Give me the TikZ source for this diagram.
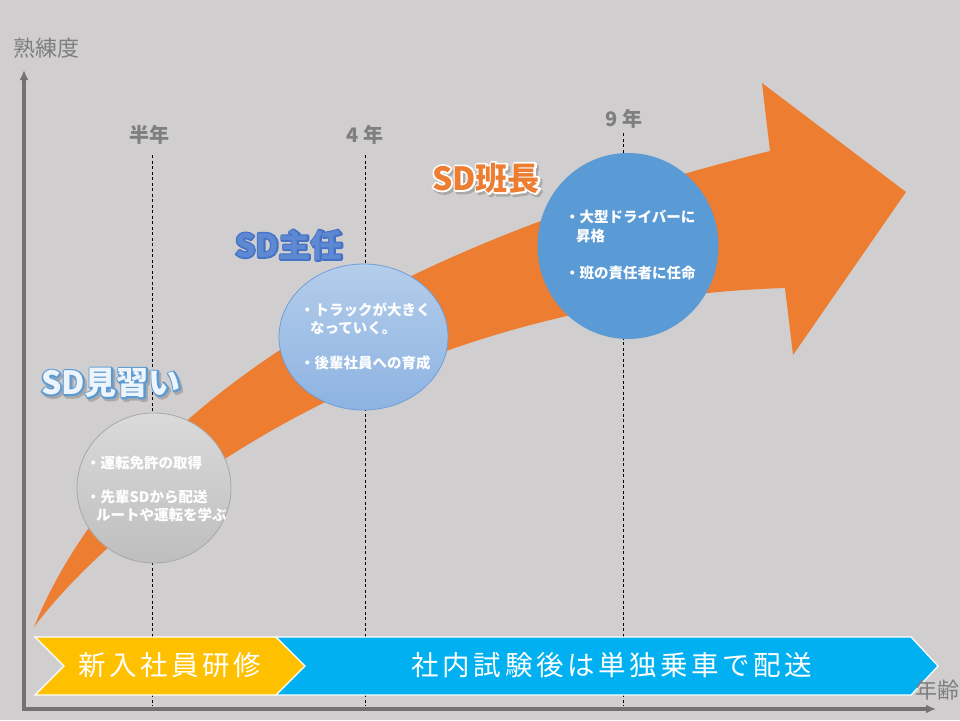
\documentclass[tikz,border=0pt]{standalone}
\usepackage{fontspec}
\setmainfont{Noto Sans CJK JP}
\newfontfamily\jpwide[LetterSpace=13]{Noto Sans CJK JP}
\usetikzlibrary{arrows.meta}
\definecolor{bg}{HTML}{D0CECE}
\definecolor{axisgray}{HTML}{767171}
\definecolor{labgray}{HTML}{7F7F7F}
\definecolor{orng}{HTML}{ED7D31}
\definecolor{midblue}{HTML}{5B9BD5}
\definecolor{dblue}{HTML}{4472C4}
\definecolor{ltblueA}{HTML}{B4CDEA}
\definecolor{ltblueB}{HTML}{8DB3E2}
\definecolor{ltblueE}{HTML}{6F9FD8}
\definecolor{grayA}{HTML}{DADADA}
\definecolor{grayB}{HTML}{BEBEBE}
\definecolor{grayE}{HTML}{A8A8A8}
\definecolor{ylw}{HTML}{FFC000}
\definecolor{cyanb}{HTML}{00B0F0}
\definecolor{pblue}{HTML}{5F88D2}
\definecolor{paleblue}{HTML}{EEF4FB}
\definecolor{shadowgray}{HTML}{ABA9A9}
% stroked text: #1 = stroke colour as "r g b", #2 = stroke width, #3 = text
\newcommand{\strokedtext}[3]{\special{pdf:literal direct #1 RG #2 w 1 j 2 Tr}#3\special{pdf:literal direct 0 Tr}}
% layered title: #1 shadow? (1/0), #2 outline colour name, #3 outline rgb, #4 width, #5 fill colour, #6 text
\newcommand{\layeredtitle}[6]{%
  \ifnum#1=1 \rlap{\kern2pt\raisebox{-2.5pt}[0pt][0pt]{\textcolor{shadowgray}{\strokedtext{0.67 0.66 0.66}{#4}{#6}}}}\fi
  \rlap{\textcolor{#2}{\strokedtext{#3}{#4}{#6}}}%
  \textcolor{#5}{#6}}
\tikzset{
  circtext/.style={anchor=west, inner sep=0pt, text=white, font=\fontsize{14.5}{17}\selectfont\bfseries},
  yearlab/.style={inner sep=0pt, text=labgray, font=\fontsize{20}{22}\selectfont\bfseries},
  axislab/.style={inner sep=0pt, text=labgray, font=\fontsize{22}{24}\selectfont},
  bartext/.style={inner sep=0pt, text=white, font=\fontsize{27.5}{30}\selectfont\jpwide},
  title/.style={inner sep=0pt, font=\fontsize{32}{34}\selectfont\bfseries},
  vline/.style={black, line width=0.7pt, dash pattern=on 3pt off 2.5pt},
  axisline/.style={axisgray, line width=3.2pt, -{Latex[length=10pt,width=9pt]}},
  barborder/.style={white, line width=1.2pt, line join=miter},
}
\begin{document}
\begin{tikzpicture}[x=1pt,y=-1pt]
\fill[bg] (0,0) rectangle (960,720);
\useasboundingbox (0,0) rectangle (960,720);

% dashed year lines
\coordinate (t1) at (152,155); \coordinate (b1) at (152,706);
\coordinate (t2) at (365,155); \coordinate (b2) at (365,706);
\coordinate (t3) at (623,133); \coordinate (b3) at (623,706);
\draw[vline] (t1) -- (b1);
\draw[vline] (t2) -- (b2);
\draw[vline] (t3) -- (b3);

% big curved arrow
\fill[orng] (34,627) .. controls (110,440) and (330,260) .. (770,151)
  -- (762,83) -- (906,192) -- (793,355) -- (785,288)
  .. controls (400,300) and (130,500) .. (34,627) -- cycle;

% circles
\shade[top color=grayA, bottom color=grayB] (154,488) ellipse [x radius=77, y radius=75];
\draw[grayE, line width=0.8pt] (154,488) ellipse [x radius=77, y radius=75];
\shade[top color=ltblueA, bottom color=ltblueB] (363.5,337) ellipse [x radius=84.5, y radius=73];
\draw[ltblueE, line width=0.8pt] (363.5,337) ellipse [x radius=84.5, y radius=73];
\fill[midblue] (628,246) ellipse [x radius=90.5, y radius=93];

% circle texts
\node[circtext] (g1) at (86,463) {・運転免許の取得};
\node[circtext] (g2) at (86,497) {・先輩SDから配送};
\node[circtext] (g3) at (96,515) {ルートや運転を学ぶ};
\node[circtext] (l1) at (300,310) {・トラックが大きく};
\node[circtext] (l2) at (310,328) {なっていく。};
\node[circtext] (l3) at (300,363) {・後輩社員への育成};
\node[circtext] (d1) at (565,217) {・大型ドライバーに};
\node[circtext] (d2) at (576,236) {昇格};
\node[circtext] (d3) at (565,273) {・班の責任者に任命};

% titles
\node[title] (s1) at (111,383) {\layeredtitle{1}{midblue}{0.357 0.608 0.835}{3.2}{paleblue}{SD見習い}};
\node[title] (s2) at (289,245) {\layeredtitle{0}{dblue}{0.267 0.447 0.769}{3.0}{pblue}{SD主任}};
\node[title] (s3) at (486,178) {\layeredtitle{1}{white}{1 1 1}{3.6}{orng}{SD班長}};

% year labels
\node[yearlab] (y1) at (149,135) {半年};
\node[yearlab] (y2) at (365,135) {4 年};
\node[yearlab] (y3) at (624,119) {9 年};

% bottom bars
\fill[cyanb] (276,637) -- (911,637) -- (938,666) -- (911,695) -- (276,695) -- (305,666) -- cycle;
\draw[barborder] (276,637) -- (911,637) -- (938,666) -- (911,695) -- (276,695);
\fill[ylw] (35,637) -- (276,637) -- (305,666) -- (276,695) -- (35,695) -- (64,666) -- cycle;
\draw[barborder] (35,637) -- (276,637) -- (305,666) -- (276,695) -- (35,695) -- (64,666) -- cycle;
\node[bartext] (bar1) at (170,665) {新入社員研修};
\node[bartext] (bar2) at (612,665) {社内試験後は単独乗車で配送};

% axes
\coordinate (origin) at (24,709);
\coordinate (ytop) at (24,70);
\coordinate (xend) at (936,709);
\draw[axisline] (24,710.6) -- (ytop);
\draw[axisline] (22.4,709) -- (xend);
\node[axislab] (ylab) at (46,48) {熟練度};
\node[axislab] (xlab) at (937,690) {年齢};
\end{tikzpicture}
\end{document}
